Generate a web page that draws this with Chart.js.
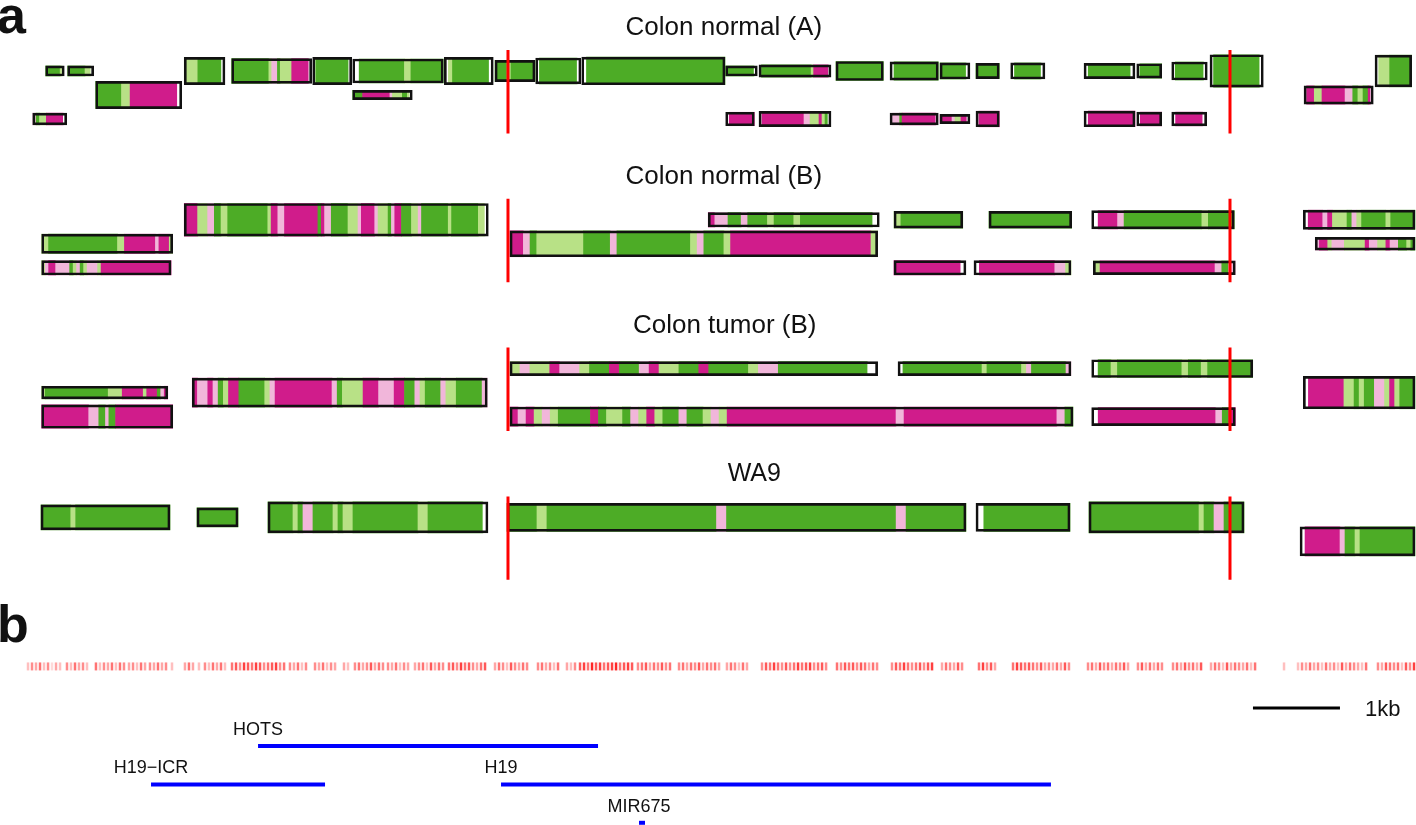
<!DOCTYPE html>
<html>
<head>
<meta charset="utf-8">
<script src="https://cdn.jsdelivr.net/npm/chart.js@4.4.1/dist/chart.umd.min.js"></script>
<style>
  body { margin: 0; background: #fff; font-family: "Liberation Sans", Arial, Helvetica, sans-serif; }
  #wrap { position: relative; width: 1416px; height: 825px; overflow: hidden; }
  #fig { position: absolute; left: 0; top: 0; }
  .lbl { position: absolute; white-space: nowrap; color: #111; line-height: 1; }
  .panel { font-size: 26px; transform: translateX(-50%); }
  .panel.short { font-size: 25px; }
  .big { font-size: 52px; font-weight: bold; }
  .gene { font-size: 18px; transform: translateX(-50%); }
  .kb { font-size: 22px; }
</style>
</head>
<body>
<div id="wrap">
  <canvas id="fig" width="1416" height="825"></canvas>
  <div class="lbl big" style="left:-3px; top:-11px">a</div>
  <div class="lbl big" style="left:-3px; top:598px">b</div>
</div>
<script>
// x: kb from the left edge of the plotted window, y: lane units (panel * panelStep + lane)
const windowKb = 16.276;
const viewLanes = [-1.958, 32.417];
const panelStep = 6.2;

const panelNames = ['Colon normal (A)', 'Colon normal (B)', 'Colon tumor (B)', 'WA9'];
const panelTitleKb = [8.32, 8.32, 8.33, 8.67];

// read clusters: panel, lane, start/end (kb), depth (lane units), methylation runs
// G 0-25%, L 25-50%, P 50-75%, M 75-100%, W no call
const blockPanel = [
  0,0,0,0,0,0,0,0,0,0,0,0,0,0,0,0,0,0,0,0,0,0,0,0,0,0,0,0,0,0,0,0,0,0,
  1,1,1,1,1,1,1,1,1,1,1,1,1,
  2,2,2,2,2,2,2,2,2,
  3,3,3,3,3,3,3
];
const blockLane = [
  1,1,2,1,1,1,1,1,1,1,1,1,1,1,1,1,1,1,1,1,1,1,1,2,2,3,3,3,3,3,3,3,3,3,
  1,1,1,1,1,1,2,2,2,3,3,3,3,
  1,1,1,2,2,2,3,3,3,
  1,1,1,1,1,1,2
];
const blockStart = [
  0.525,0.778,1.100,2.118,2.663,3.594,4.054,5.107,5.690,6.157,6.686,8.341,8.724,9.609,10.230,10.805,11.218,11.617,
  12.460,13.066,13.468,13.908,15.805,4.054,14.989,0.376,8.341,8.724,10.230,10.805,11.218,12.460,13.066,13.468,
  2.118,8.141,10.276,11.368,12.548,14.981,0.479,5.862,15.118,0.479,10.276,11.195,12.567,
  5.862,10.322,12.548,0.479,2.210,14.981,0.479,5.862,12.548,
  0.471,2.264,3.080,5.828,11.218,12.517,14.943
];
const blockEnd = [
  0.739,1.077,2.089,2.586,3.583,4.043,5.095,5.670,6.149,6.678,8.333,8.705,9.552,10.153,10.785,11.149,11.486,12.011,
  13.046,13.353,13.877,14.521,16.226,4.739,15.785,0.767,8.670,9.552,10.785,11.149,11.486,13.046,13.353,13.870,
  5.613,10.107,11.066,12.318,14.187,16.264,1.985,10.088,16.264,1.966,11.103,12.310,14.199,
  10.088,12.310,14.399,1.928,5.601,16.264,1.985,12.333,14.199,
  1.954,2.736,5.609,11.103,12.299,14.299,16.264
];
const blockDepth = [
  0.42,0.42,1.13,1.13,1.03,1.13,1.00,1.13,0.88,1.08,1.15,0.42,0.51,0.79,0.76,0.67,0.63,0.67,
  0.63,0.60,0.75,1.35,1.32,0.39,0.76,0.49,0.56,0.63,0.49,0.38,0.65,0.65,0.57,0.57,
  1.36,0.60,0.70,0.70,0.76,0.80,0.80,1.08,0.53,0.60,0.60,0.60,0.57,
  0.58,0.58,0.74,0.53,1.21,1.35,0.97,0.80,0.75,
  1.04,0.79,1.29,1.17,1.17,1.29,1.21
];
const blockPattern = [
  'G7 L1 W1', 'G6 L2 W1', 'G6 L2 M11 W1', 'L4 G7 W1', 'G13 L1 P2 G1 L4 M6 W1', 'W1 G11 W1',
  'W1 G7 L1 G5', 'W1 L1 G9 W1', 'G3 L1 G6', 'W1 G10 W1', 'W1 G29', 'G9 W1', 'W1 G20 L1 M6 W1',
  'G10', 'W1 G11', 'G7 W1', 'G6', 'W1 G7 W1', 'W1 G10 W1', 'W1 G7', 'W1 G8 W1', 'W1 G13 W1',
  'W1 L3 G6', 'G4 M11 P1 L4 G2 L1 W1', 'W1 M3 L3 M9 P3 G2 L2 G2 M1 W1', 'P1 G1 L2 M5 W1',
  'W1 M7', 'W1 M14 P2 L3 M1 L1 G1 W1', 'W1 P3 G1 M14 W1', 'M4 P1 L2 M2 W1', 'W1 M7', 'W1 M11',
  'W1 M6', 'W1 M7 W1',
  'M4 L3 P2 G2 L2 G12 L1 M2 P2 M10 G1 M1 P2 G5 L3 P1 M4 P1 L3 G1 P1 M2 G3 L2 P1 G8 L1 G8 L2 W1',
  'M1 P2 G2 P1 G3 L1 G3 L1 G11 W1', 'L1 G9', 'G10', 'W1 M3 P1 G12 L1 G4',
  'W1 M3 P1 M1 L3 G1 P1 L1 G5 L1 G5', 'L2 G20 L2 M9 P1 M3 L1',
  'M2 P1 G1 L7 G4 P1 G11 L1 P1 G3 L1 M21 L1', 'P1 M2 L1 P3 L5 M1 P2 L2 M1 P2 G2 L1 G1',
  'L1 P1 M2 P4 G1 L1 P1 G1 L1 P3 L1 M20', 'M13 W1', 'W1 M14 P2 L1', 'L1 M17 P1 G1 P1',
  'L1 P1 L2 M1 P2 L1 G2 M1 G2 P1 M1 L2 G2 M1 G4 L1 P2 G9 W1', 'W1 G16 L1 G7 L1 P1 G7 P1',
  'W1 G2 L1 G10 L1 G2 L1 G7', 'L1 G18 L4 M6 L1 M3 G1 P1 M1',
  'M1 P2 M1 P1 G1 L1 M2 G5 L1 P1 M11 P1 G1 L4 M3 P3 M2 G2 P1 L1 G3 P1 L2 G5 P1',
  'W1 M7 L2 G1 L1 G2 P2 L1 M1 L1 G3', 'M14 P3 G2 P1 G2 M17',
  'M1 P1 M1 L1 P1 L1 G4 M1 G1 L2 G1 P1 L1 M1 L1 G2 P1 G2 L1 P1 L1 M21 P1 M19 P1 G1',
  'W1 M18 P1 G1 M1',
  'G6 L1 G19', 'G8', 'G5 L1 G1 P2 G4 L1 G1 L2 G13 L2 G11 W1', 'G3 L1 G17 P1 G17 P1 G6',
  'W1 G11', 'G22 L1 G2 P2 G4', 'W1 M7 P1 G2 L1 G11'
];

// red reference lines
const markerKb = [5.839, 14.138];
const markerSpan = [0.125, 3.6];

// panel b: CpG density, 1kb bar, genes
const densityY = 25.81;
const cpgBinKb = 0.046;
const cpgStart = [0.322,0.770,1.103,1.483,1.724,1.977,2.126,2.287,2.356,2.667,3.333,3.621,3.954,4.080,4.460,
  4.770,5.161,5.690,6.184,6.517,6.667,7.333,7.805,8.356,8.759,9.621,10.253,10.828,11.253,11.644,12.057,
  12.506,13.080,13.483,13.920,14.759,14.920,15.839];
const cpgPattern = ['354635243','536453','63546365','45364','54645','3','464','3','536463','67587687567856',
  '54635','546354','43','56457465','546354','45637465','6758675467','465375465','564536','435',
  '78697867896787','567465756','56465746564','465364','57686575686785675','65767576465','57686567578',
  '465475','68574','687676574','546475','56475646574','5746465','56475647','465374654636','3',
  '354645364537465436','5476563758'];

const scaleBarStart = 14.402;
const scaleBarY = 27.54;

const geneNames = ['HOTS', 'H19\u2212ICR', 'H19', 'MIR675'];
const geneStart = [2.966, 1.736, 5.759, 7.345];
const geneEnd = [6.874, 3.736, 12.080, 7.414];
const geneRow = [0, 1, 1, 2];
const geneY0 = 29.125;
const geneRowStep = 1.6;

const methColor = { G: '#4dac26', L: '#b8e186', P: '#f1b6da', M: '#d01c8b', W: '#ffffff' };

const datasets = [];

blockStart.forEach((start, i) => {
  const y = blockPanel[i] * panelStep + blockLane[i];
  const runs = blockPattern[i].split(' ').map(r => ({ c: r[0], n: +r.slice(1) }));
  const total = runs.reduce((s, r) => s + r.n, 0);
  const unit = (blockEnd[i] - start) / total;
  const data = [], colors = [], widths = [];
  let pos = start;
  runs.forEach(r => {
    const next = pos + r.n * unit;
    data.push({ x: [pos, next], y: y });
    colors.push(methColor[r.c]);
    widths.push(0);
    pos = next;
  });
  // outline of the whole cluster, drawn last
  data.push({ x: [start, blockEnd[i]], y: y });
  colors.push('rgba(0,0,0,0)');
  widths.push(2);
  const depth = blockDepth[i];
  datasets.push({
    type: 'bar',
    indexAxis: 'y',
    grouped: false,
    order: 2,
    data: data,
    backgroundColor: colors,
    borderColor: '#111',
    borderWidth: widths,
    borderSkipped: false,
    barThickness: ctx => {
      const s = ctx.chart.scales.y;
      return Math.abs(s.getPixelForValue(depth) - s.getPixelForValue(0));
    }
  });
});

panelNames.forEach((n, p) => {
  markerKb.forEach(k => {
    datasets.push({
      type: 'line', order: 0,
      data: [{ x: k, y: p * panelStep + markerSpan[0] }, { x: k, y: p * panelStep + markerSpan[1] }],
      borderColor: '#ff0000', borderWidth: 3, pointRadius: 0
    });
  });
});

const cpgPoints = [], cpgColors = [];
cpgStart.forEach((s, i) => {
  [...cpgPattern[i]].forEach((ch, j) => {
    if (ch === '0') return;
    cpgPoints.push({ x: s + j * cpgBinKb, y: densityY });
    cpgColors.push('rgba(255,0,0,' + (ch * 0.1 - 0.05).toFixed(2) + ')');
  });
});
datasets.push({
  type: 'scatter', order: 1,
  data: cpgPoints,
  pointStyle: 'line', rotation: 90, radius: 4,
  pointBorderColor: cpgColors, borderWidth: 2.5
});

datasets.push({
  type: 'line', order: 1,
  data: [{ x: scaleBarStart, y: scaleBarY }, { x: scaleBarStart + 1, y: scaleBarY }],
  borderColor: '#000', borderWidth: 3, pointRadius: 0
});

geneNames.forEach((g, i) => {
  const y = geneY0 + geneRow[i] * geneRowStep;
  datasets.push({
    type: 'line', order: 1,
    data: [{ x: geneStart[i], y: y }, { x: geneEnd[i], y: y }],
    borderColor: '#0000ff', borderWidth: 4, pointRadius: 0
  });
});

const chart = new Chart(document.getElementById('fig'), {
  type: 'bar',
  data: { datasets: datasets },
  options: {
    responsive: false,
    animation: false,
    events: [],
    layout: { padding: 0, autoPadding: false },
    plugins: { legend: { display: false }, tooltip: { enabled: false } },
    scales: {
      x: { type: 'linear', min: 0, max: windowKb, offset: false, grace: 0, display: false },
      y: { type: 'linear', min: viewLanes[0], max: viewLanes[1], offset: false, grace: 0, reverse: true, display: false }
    }
  }
});

// text labels placed through the chart scales
const xs = chart.scales.x, ys = chart.scales.y;
const wrap = document.getElementById('wrap');
function label(text, cls, left, top) {
  const d = document.createElement('div');
  d.className = 'lbl ' + cls;
  d.textContent = text;
  d.style.left = left + 'px';
  d.style.top = top + 'px';
  wrap.appendChild(d);
}
panelNames.forEach((n, p) => {
  const cls = n.length < 5 ? 'panel short' : 'panel';
  label(n, cls, xs.getPixelForValue(panelTitleKb[p]), ys.getPixelForValue(p * panelStep + 1) - 57.5);
});
geneNames.forEach((g, i) => {
  const y = geneY0 + geneRow[i] * geneRowStep;
  label(g, 'gene', xs.getPixelForValue(geneStart[i]), ys.getPixelForValue(y) - 26);
});
label('1kb', 'kb', xs.getPixelForValue(scaleBarStart + 1) + 25, ys.getPixelForValue(scaleBarY) - 10);
</script>
</body>
</html>
